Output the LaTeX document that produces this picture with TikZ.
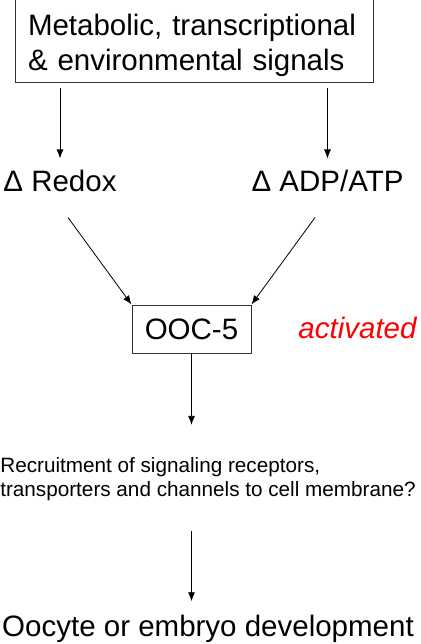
\documentclass[tikz,border=0pt]{standalone}
\usepackage{fontspec}
\setmainfont{Liberation Sans}
\usetikzlibrary{arrows.meta}
\tikzset{
>={Latex[width=7pt,length=9pt]},
	sigbox/.style={
		rectangle,
		sharp corners,
		fill=black!0,
		draw=black!80, line width=1pt,
		text width=332pt,
		inner xsep=13pt,
		minimum height=83pt,
		align=left,
		font=\fontsize{29.5}{35}\selectfont},
	oocbox/.style={
		rectangle,
		sharp corners,
		fill=black!0,
		draw=black!80, line width=1pt,
		minimum width=119pt,
		minimum height=48pt,
		font=\fontsize{29.5}{35}\selectfont},
	bigtext/.style={
		inner sep=0pt,
		font=\fontsize{29.5}{35}\selectfont},
	smalltext/.style={
		inner sep=0pt,
		align=left,
		font=\fontsize{20.7}{24}\selectfont},
	link/.style={->, line width=0.8pt}
}
\begin{document}
\begin{tikzpicture}
\useasboundingbox (0,0) rectangle (420pt,-644pt);
\node[sigbox] (signals) at (194pt,-41.5pt) {\rule{0pt}{28.5pt}Metabolic, transcriptional\\\& environmental signals};
\node[bigtext, below of=signals, node distance=139pt, xshift=-134pt] (redox) {Δ Redox};
\node[bigtext, below of=signals, node distance=139pt, xshift=133.5pt] (atp) {Δ ADP/ATP};
\node[oocbox, below of=signals, node distance=287.5pt, xshift=-2.5pt] (ooc) {OOC-5};
\node[bigtext, right of=ooc, node distance=166pt, yshift=1pt, text=red, font=\fontsize{29.5}{35}\selectfont\itshape] (act) {activated};
\node[smalltext, below of=ooc, node distance=149.7pt, xshift=16.5pt] (recruit) {Recruitment of signaling receptors,\\transporters and channels to cell membrane?};
\node[bigtext, below of=recruit, node distance=150.5pt] (develop) {Oocyte or embryo development};
\draw[link, shorten <=5pt, shorten >=11pt] (signals.south -| redox.north) -- (redox.north);
\draw[link, shorten <=5pt, shorten >=11pt] (signals.south -| atp.north) -- (atp.north);
\draw[link] ([xshift=8pt,yshift=-26pt]redox.south) -- (ooc.north west);
\draw[link] ([xshift=-12.5pt,yshift=-26pt]atp.south) -- (ooc.north east);
\draw[link, shorten >=32pt] (ooc.south) -- (ooc.south |- recruit.north);
\draw[link, shorten <=30pt, shorten >=14pt] (ooc.south |- recruit.south) -- (ooc.south |- develop.north);
\end{tikzpicture}
\end{document}
